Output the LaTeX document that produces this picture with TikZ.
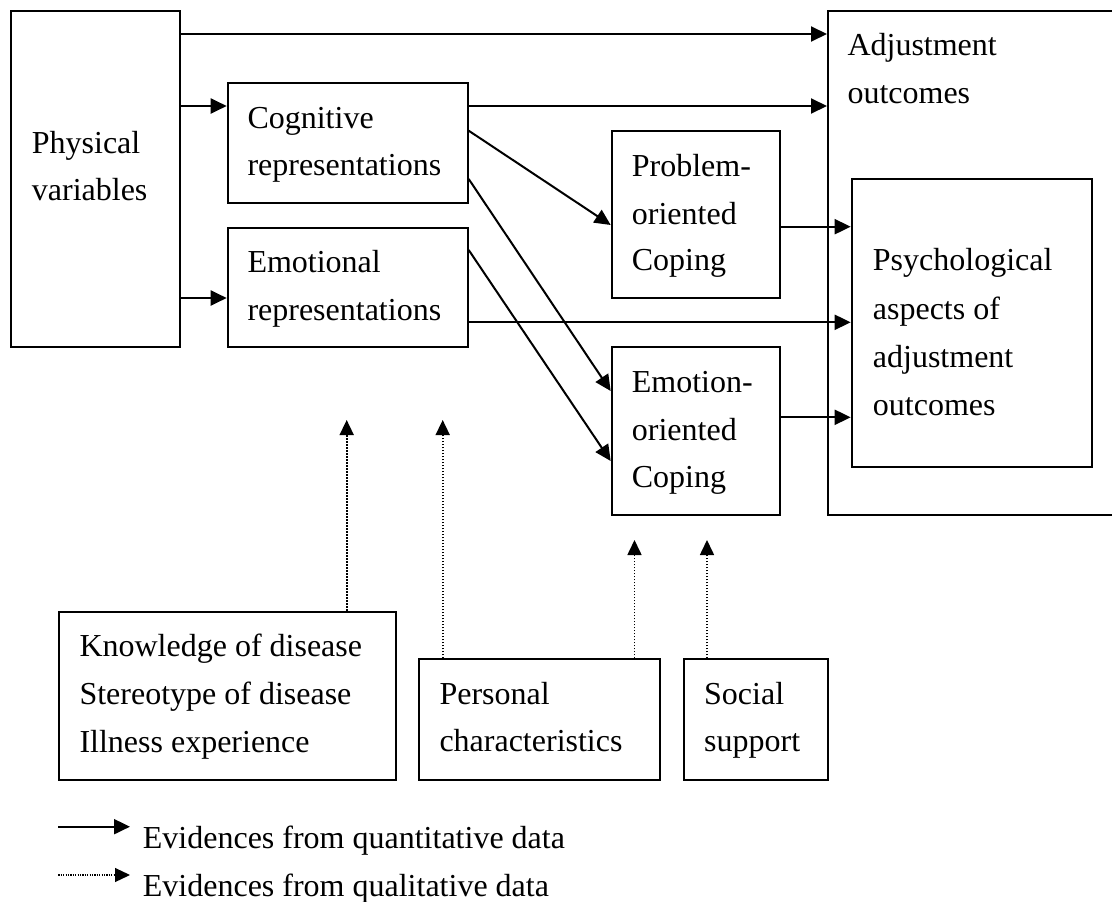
\documentclass[tikz,border=0pt]{standalone}
\usepackage{fontspec}
\setmainfont{Liberation Serif}
\usetikzlibrary{arrows.meta}
\begin{document}
\begin{tikzpicture}[x=1pt,y=-1pt,
  box/.style={draw,line width=2pt,rectangle,inner sep=0pt,anchor=north west},
  lbl/.style={anchor=base west,inner sep=0pt,font=\fontsize{32}{38}\selectfont},
  arr/.style={line width=2pt,-{Triangle[length=16pt,width=15pt]}},
  dotarr/.style={line width=1.6pt,dash pattern=on 1.5pt off 1.5pt,-{Triangle[length=15pt,width=14pt]}}]
\useasboundingbox (0,0) rectangle (1112,902);
\clip (0,0) rectangle (1112,902);

% boxes
\node[box,minimum width=169pt,minimum height=336pt] (phys) at (10,10) {};
\node[box,minimum width=240pt,minimum height=119.4pt] (cog) at (226.7,82.3) {};
\node[box,minimum width=240pt,minimum height=119pt] (emo) at (226.7,226.7) {};
\node[box,minimum width=168.6pt,minimum height=167.3pt] (prob) at (610.7,130) {};
\node[box,minimum width=168.6pt,minimum height=168.3pt] (ecop) at (610.7,346) {};
\node[box,minimum width=320pt,minimum height=504.3pt] (adj) at (827,10) {};
\node[box,minimum width=240.3pt,minimum height=287.4pt] (psy) at (850.7,178.3) {};
\node[box,minimum width=337pt,minimum height=168pt] (know) at (58.3,610.7) {};
\node[box,minimum width=241pt,minimum height=120.4pt] (pers) at (418.3,658.3) {};
\node[box,minimum width=144.5pt,minimum height=120.4pt] (soc) at (682.7,658.3) {};

% labels
\node[lbl] (physA) at (31.7,153.3) {Physical};
\node[lbl] (physB) at (31.7,200.3) {variables};
\node[lbl] (cogA) at (247.3,128.3) {Cognitive};
\node[lbl] (cogB) at (247.3,175.7) {representations};
\node[lbl] (emoA) at (247.3,272.7) {Emotional};
\node[lbl] (emoB) at (247.3,320) {representations};
\node[lbl] (probA) at (631.7,176.7) {Problem-};
\node[lbl] (probB) at (631.7,224) {oriented};
\node[lbl] (probC) at (631.7,270.7) {Coping};
\node[lbl] (ecopA) at (631.7,392.7) {Emotion-};
\node[lbl] (ecopB) at (631.7,440) {oriented};
\node[lbl] (ecopC) at (631.7,487.3) {Coping};
\node[lbl] (adjA) at (847.3,56) {Adjustment};
\node[lbl] (adjB) at (847.3,103.3) {outcomes};
\node[lbl] (psyA) at (872.7,270.7) {Psychological};
\node[lbl] (psyB) at (872.7,319) {aspects of};
\node[lbl] (psyC) at (872.7,367.3) {adjustment};
\node[lbl] (psyD) at (872.7,415.6) {outcomes};
\node[lbl] (knowA) at (79.3,656.7) {Knowledge of disease};
\node[lbl] (knowB) at (79.3,704.7) {Stereotype of disease};
\node[lbl] (knowC) at (79.3,752.3) {Illness experience};
\node[lbl] (persA) at (439.3,704.3) {Personal};
\node[lbl] (persB) at (439.3,751.7) {characteristics};
\node[lbl] (socA) at (704,704.3) {Social};
\node[lbl] (socB) at (704,751.7) {support};
\node[lbl] (legA) at (142.7,848.3) {Evidences from quantitative data};
\node[lbl] (legB) at (142.7,896) {Evidences from qualitative data};

% heights of the connector ends
\coordinate (h34) at (0,34);
\coordinate (h106) at (0,106);
\coordinate (h298) at (0,298);
\coordinate (h322) at (0,322.3);
\coordinate (h227) at (0,226.7);
\coordinate (h417) at (0,417.3);
\coordinate (h131) at (0,130.7);
\coordinate (h225) at (0,225);
\coordinate (h179) at (0,179);
\coordinate (h391) at (0,391);
\coordinate (h250) at (0,250);
\coordinate (h461) at (0,461);

% solid connectors
\draw[arr] (phys.east |- h34) -- (adj.west |- h34);
\draw[arr] (phys.east |- h106) -- (cog.west |- h106);
\draw[arr] (phys.east |- h298) -- (emo.west |- h298);
\draw[arr] (cog.east |- h106) -- (adj.west |- h106);
\draw[arr] (cog.east |- h131) -- (prob.west |- h225);
\draw[arr] (cog.east |- h179) -- (ecop.west |- h391);
\draw[arr] (emo.east |- h250) -- (ecop.west |- h461);
\draw[arr] (emo.east |- h322) -- (psy.west |- h322);
\draw[arr] (prob.east |- h227) -- (psy.west |- h227);
\draw[arr] (ecop.east |- h417) -- (psy.west |- h417);

% dotted influences, pointing at open space
\coordinate (t1) at (346.7,420);
\coordinate (t2) at (442.7,420);
\coordinate (t3) at (634.5,540);
\coordinate (t4) at (707,540);
\draw[dotarr] (know.north -| t1) -- (t1);
\draw[dotarr] (pers.north -| t2) -- (t2);
\draw[dotarr] (pers.north -| t3) -- (t3);
\draw[dotarr] (soc.north -| t4) -- (t4);

% legend
\coordinate (l1s) at (58.3,826.7);
\coordinate (l1e) at (130,826.7);
\coordinate (l2s) at (58.3,875);
\coordinate (l2e) at (130,875);
\draw[arr] (l1s) -- (l1e);
\draw[dotarr,line width=1.2pt,dash pattern=on 1.2pt off 1.2pt] (l2s) -- (l2e);
\end{tikzpicture}
\end{document}
